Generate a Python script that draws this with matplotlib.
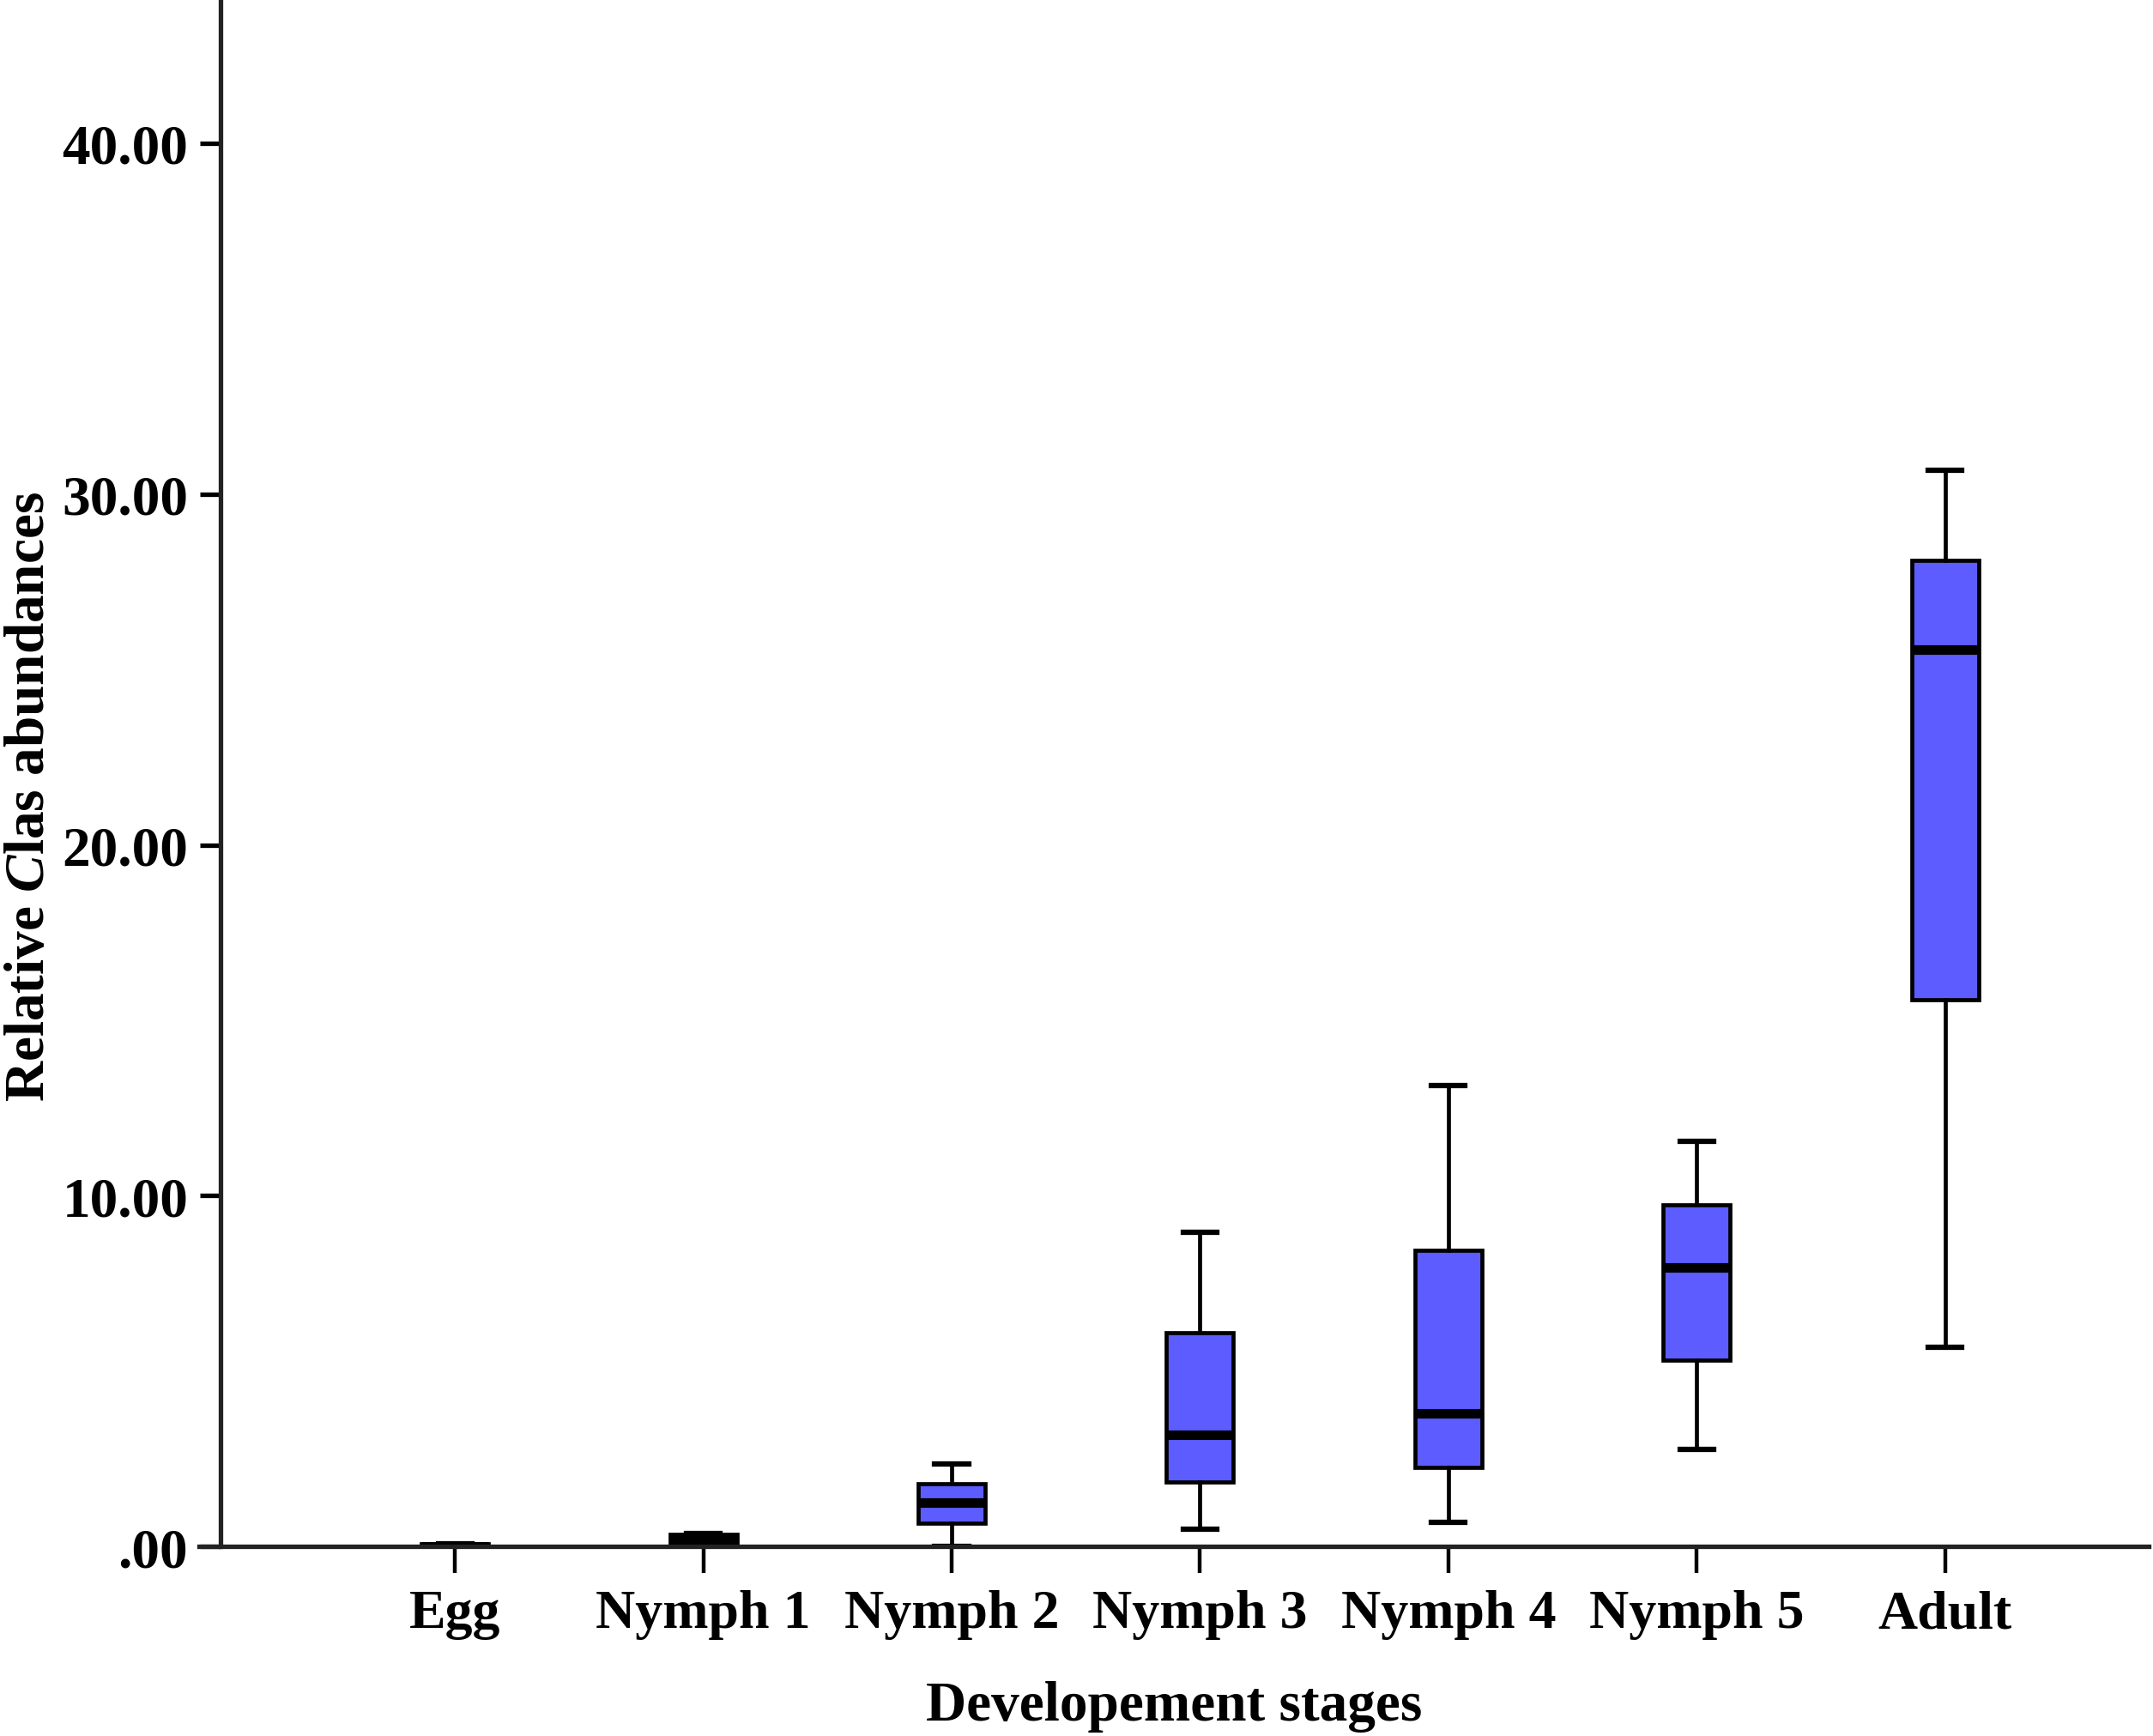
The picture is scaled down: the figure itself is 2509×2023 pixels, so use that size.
import matplotlib
matplotlib.use("Agg")
from matplotlib import pyplot as plt

# Data (relative CLas abundances per stage)
stages = ["Egg", "Nymph 1", "Nymph 2", "Nymph 3", "Nymph 4", "Nymph 5", "Adult"]
whisker_low = [0.0, 0.0, 0.0, 0.5, 0.7, 2.78, 5.68]
q1 = [0.0, 0.02, 0.67, 1.84, 2.27, 5.32, 15.58]
median = [0.02, 0.2, 1.25, 3.2, 3.8, 7.95, 25.56]
q3 = [0.08, 0.35, 1.8, 6.1, 8.45, 9.75, 28.1]
whisker_high = [0.08, 0.38, 2.35, 8.96, 13.15, 11.55, 30.68]
y_ticks = [0, 10, 20, 30, 40]
y_tick_labels = [".00", "10.00", "20.00", "30.00", "40.00"]

plt.rcParams["font.family"] = ["Liberation Serif", "DejaVu Serif"]
plt.rcParams["font.weight"] = "bold"
plt.rcParams["mathtext.fontset"] = "custom"
plt.rcParams["mathtext.it"] = "Liberation Serif:italic:bold"
plt.rcParams["mathtext.rm"] = "Liberation Serif:bold"

fig = plt.figure(figsize=(25.09, 20.24), dpi=100)
ax = fig.add_axes([0.0925, 0.109, 0.9055, 0.891])

stats = []
for i in range(len(stages)):
	stats.append({
		"whislo": whisker_low[i],
		"q1": q1[i],
		"med": median[i],
		"q3": q3[i],
		"whishi": whisker_high[i],
		"label": stages[i],
	})

positions = list(range(len(stages)))
bp = ax.bxp(stats, positions=positions, widths=0.27, patch_artist=True,
	showfliers=False, capwidths=0.135,
	boxprops=dict(facecolor="#5c5cff", edgecolor="black", linewidth=3.4),
	medianprops=dict(color="black", linewidth=8),
	whiskerprops=dict(color="black", linewidth=3.4),
	capprops=dict(color="black", linewidth=4.5))

# Egg and Nymph 1 boxes look solid black in the reference
for b in bp["boxes"][:2]:
	b.set_facecolor("black")

ax.set_xlim(-1.03, 6.82)
ax.set_ylim(0, 44.1)

ax.spines["top"].set_visible(False)
ax.spines["right"].set_visible(False)
ax.spines["left"].set_position(("data", -0.945))
ax.spines["left"].set_color("#222222")
ax.spines["bottom"].set_color("#222222")
ax.spines["left"].set_linewidth(3.8)
ax.spines["bottom"].set_linewidth(3.8)

ax.set_yticks(y_ticks)
ax.set_yticklabels(y_tick_labels, fontsize=47, fontweight="bold")
ax.set_xticks(positions)
ax.set_xticklabels(stages, fontsize=46, fontweight="bold")
ax.tick_params(axis="x", length=22, width=3.2, pad=14, direction="out")
ax.tick_params(axis="y", length=17, width=3.8, pad=10, direction="out")

ax.set_xlabel("Developement stages", fontsize=47, fontweight="bold", labelpad=34)
# y label placed by hand so it sits at the far left like the reference
fig.text(0.014, 0.5415, r"Relative $\mathit{C}$las abundances", fontsize=47,
	fontweight="bold", rotation=90, ha="center", va="center")

fig.savefig("out.png", dpi=100)
